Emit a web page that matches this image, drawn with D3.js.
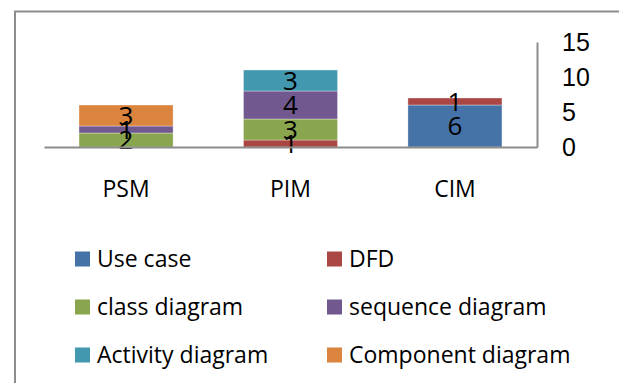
<!DOCTYPE html>
<html>
<head>
<meta charset="utf-8">
<script src="https://cdn.jsdelivr.net/npm/d3@7"></script>
<style>
  html, body { margin: 0; padding: 0; background: #fff; }
  svg { display: block; }
</style>
</head>
<body>
<div id="chart"></div>
<script>
// stacked bars, axis on the right, legend in two columns below
const categories = ["PSM", "PIM", "CIM"];
const seriesNames = ["Use case", "DFD", "class diagram", "sequence diagram", "Activity diagram", "Component diagram"];
const useCase   = [0, 0, 6];
const dfd       = [0, 1, 1];
const classDiag = [2, 3, 0];
const seqDiag   = [1, 4, 0];
const actDiag   = [0, 3, 0];
const compDiag  = [3, 0, 0];
const yTicks    = [0, 5, 10, 15];
const colors    = ["#4572A7", "#AA4643", "#89A54E", "#71588F", "#4198AF", "#DB843D"];

const W = 619, H = 383;
const plot = { left: 44, right: 537, top: 42, bottom: 147 };

const svg = d3.select("#chart").append("svg")
  .attr("width", W).attr("height", H);

// outer frame (runs off the right/bottom edge)
svg.append("rect")
  .attr("x", 15).attr("y", 11.5)
  .attr("width", W + 20).attr("height", H + 20)
  .attr("fill", "none").attr("stroke", "#8c8c8c").attr("stroke-width", 2);

const table = categories.map((c, i) => {
  const row = { cat: c };
  [useCase, dfd, classDiag, seqDiag, actDiag, compDiag]
    .forEach((arr, k) => row[seriesNames[k]] = arr[i]);
  return row;
});
const stacked = d3.stack().keys(seriesNames)(table);

const x = d3.scaleBand().domain(categories)
  .range([plot.left, plot.right]).paddingInner(0.428).paddingOuter(0.213);
const y = d3.scaleLinear().domain([0, 15]).range([plot.bottom, plot.top]);
const color = d3.scaleOrdinal().domain(seriesNames).range(colors);

// bars
const layers = svg.append("g").selectAll("g")
  .data(stacked).join("g")
    .attr("fill", d => color(d.key));
layers.selectAll("rect")
  .data(d => d.filter(p => p[1] - p[0] > 0))
  .join("rect")
    .attr("x", d => x(d.data.cat))
    .attr("y", d => y(d[1]))
    .attr("width", x.bandwidth())
    .attr("height", d => y(d[0]) - y(d[1]))
    .attr("stroke", "#fff").attr("stroke-opacity", 0.35).attr("stroke-width", 1);

// value labels (they overlap in the small segments, as in the original)
const labels = svg.append("g")
  .attr("font-family", "'Open Sans', sans-serif")
  .attr("font-size", 26).attr("fill", "#000")
  .attr("text-anchor", "middle");
stacked.forEach(s => {
  labels.selectAll(null)
    .data(s.filter(p => p[1] - p[0] > 0))
    .join("text")
      .attr("x", d => x(d.data.cat) + x.bandwidth() / 2)
      .attr("y", d => y((d[0] + d[1]) / 2))
      .attr("dy", "0.36em")
      .text(d => d[1] - d[0]);
});

// axis line on the right, baseline
const yAxis = svg.append("g")
  .attr("transform", `translate(${plot.right},0)`)
  .call(d3.axisRight(y).tickValues(yTicks).tickSize(0).tickPadding(25));
yAxis.select(".domain").attr("stroke", "#8c8c8c").attr("stroke-width", 2);
yAxis.selectAll("text")
  .attr("font-family", "'Liberation Sans', Arial, sans-serif")
  .attr("font-size", 25).attr("fill", "#000");

const xAxis = svg.append("g")
  .attr("transform", `translate(0,${plot.bottom})`)
  .call(d3.axisBottom(x).tickSize(0).tickPadding(34));
xAxis.select(".domain").attr("stroke", "#8c8c8c").attr("stroke-width", 2);
xAxis.selectAll("text")
  .attr("font-family", "'Open Sans', sans-serif")
  .attr("font-size", 23).attr("fill", "#000");

// legend
const legCols = [75, 327], legRows = [259, 307, 355];
const leg = svg.append("g").selectAll("g")
  .data(seriesNames).join("g")
    .attr("transform", (d, i) => `translate(${legCols[i % 2]},${legRows[Math.floor(i / 2)]})`);
leg.append("rect")
  .attr("x", 0).attr("y", -7.5).attr("width", 15).attr("height", 15)
  .attr("fill", d => color(d));
leg.append("text")
  .attr("x", 22).attr("dy", "0.36em")
  .attr("font-family", "'Open Sans', sans-serif")
  .attr("font-size", 23).attr("fill", "#000")
  .text(d => d);
</script>
</body>
</html>
